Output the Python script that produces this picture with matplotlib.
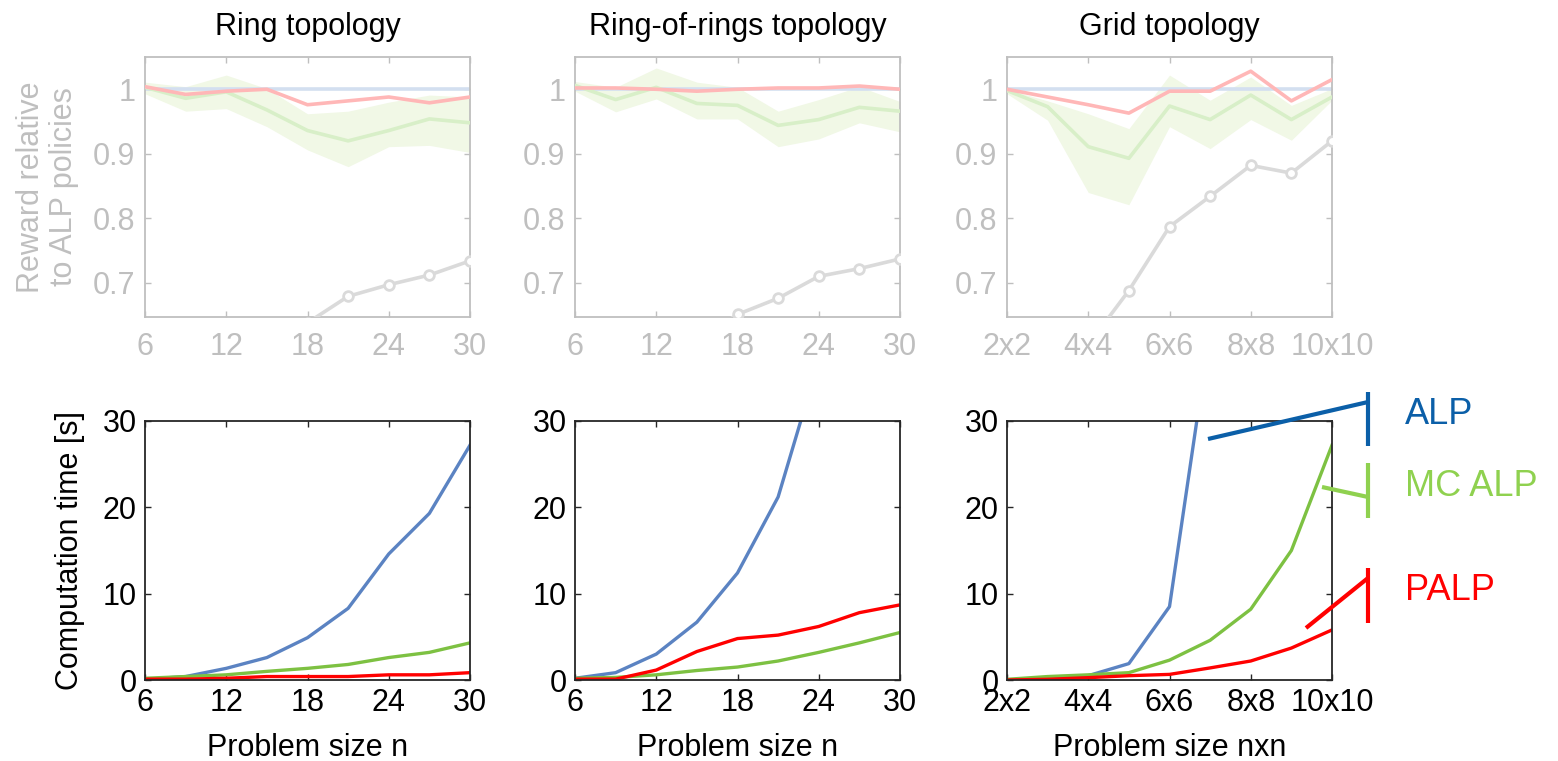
import matplotlib
matplotlib.use('Agg')
import matplotlib.pyplot as plt
from matplotlib.lines import Line2D

plt.rcParams['font.family'] = ['Liberation Sans', 'DejaVu Sans']

W, H = 1558, 761

# problem sizes
ring_n = [6, 9, 12, 15, 18, 21, 24, 27, 30]
grid_n = [2, 3, 4, 5, 6, 7, 8, 9, 10]
ring_ticks = [6, 12, 18, 24, 30]
grid_ticks = [2, 4, 6, 8, 10]
grid_labels = ['2x2', '4x4', '6x6', '8x8', '10x10']
titles = ['Ring topology', 'Ring-of-rings topology', 'Grid topology']
xlabels = ['Problem size n', 'Problem size n', 'Problem size nxn']

# reward relative to ALP policies (top row)
ring_palp = [1.004, 0.992, 0.997, 1.000, 0.976, 0.982, 0.988, 0.979, 0.988]
ring_mc = [1.003, 0.986, 0.996, 0.968, 0.936, 0.920, 0.936, 0.954, 0.948]
ring_mc_hi = [1.011, 1.004, 1.022, 1.001, 0.962, 0.966, 0.980, 0.991, 0.988]
ring_mc_lo = [0.993, 0.966, 0.970, 0.942, 0.906, 0.880, 0.911, 0.913, 0.902]
ring_other = [0.40, 0.47, 0.53, 0.59, 0.638, 0.679, 0.697, 0.712, 0.734]

ror_palp = [1.002, 1.002, 1.000, 0.997, 1.000, 1.002, 1.002, 1.005, 1.000]
ror_mc = [1.006, 0.984, 1.003, 0.978, 0.975, 0.944, 0.953, 0.972, 0.966]
ror_mc_hi = [1.012, 1.003, 1.033, 1.011, 1.003, 0.966, 0.984, 1.004, 0.981]
ror_mc_lo = [0.997, 0.965, 0.985, 0.954, 0.954, 0.911, 0.923, 0.948, 0.934]
ror_other = [0.45, 0.52, 0.57, 0.61, 0.651, 0.676, 0.710, 0.722, 0.737]

grid_palp = [1.000, 0.988, 0.976, 0.963, 0.997, 0.997, 1.028, 0.982, 1.015]
grid_mc = [0.998, 0.973, 0.911, 0.893, 0.974, 0.953, 0.991, 0.953, 0.988]
grid_mc_hi = [1.000, 0.982, 0.962, 0.939, 1.022, 0.983, 1.019, 0.975, 1.001]
grid_mc_lo = [0.993, 0.952, 0.840, 0.821, 0.942, 0.908, 0.953, 0.921, 0.983]
grid_other = [0.45, 0.52, 0.604, 0.688, 0.787, 0.834, 0.882, 0.870, 0.920]

# computation time [s] (bottom row)
ring_t_alp = [0.08, 0.4, 1.35, 2.6, 4.9, 8.3, 14.6, 19.3, 27.2]
ring_t_mc = [0.2, 0.4, 0.6, 1.0, 1.35, 1.8, 2.6, 3.2, 4.3]
ring_t_palp = [0.1, 0.1, 0.2, 0.4, 0.4, 0.4, 0.6, 0.6, 0.85]

ror_t_alp = [0.2, 0.85, 3.0, 6.7, 12.4, 21.2, 37.0]
ror_t_mc = [0.2, 0.3, 0.6, 1.1, 1.5, 2.2, 3.2, 4.3, 5.5]
ror_t_palp = [0.1, 0.1, 1.15, 3.3, 4.8, 5.2, 6.2, 7.8, 8.7]

grid_t_alp = [0.0, 0.2, 0.5, 1.9, 8.5, 40.5]
grid_t_mc = [0.08, 0.4, 0.6, 0.85, 2.3, 4.6, 8.2, 15.0, 27.2]
grid_t_palp = [0.0, 0.08, 0.27, 0.5, 0.65, 1.4, 2.2, 3.7, 5.8]

top_data = [
    (ring_n, ring_palp, ring_mc, ring_mc_lo, ring_mc_hi, ring_other),
    (ring_n, ror_palp, ror_mc, ror_mc_lo, ror_mc_hi, ror_other),
    (grid_n, grid_palp, grid_mc, grid_mc_lo, grid_mc_hi, grid_other),
]
bottom_data = [
    (ring_n, ring_t_alp, ring_t_mc, ring_t_palp),
    (ring_n, ror_t_alp, ror_t_mc, ror_t_palp),
    (grid_n, grid_t_alp, grid_t_mc, grid_t_palp),
]

FS = 22
FADE = '#bfbfbf'
BLUE, GREEN, RED = '#5b83c2', '#7dc142', '#ff0000'

fig = plt.figure(figsize=(W / 100, H / 100), dpi=100)

lefts = [145, 575, 1007]
aw = 325


def px_axes(x0, y0, x1, y1):
    return fig.add_axes([x0 / W, 1 - y1 / H, (x1 - x0) / W, (y1 - y0) / H])


for i in range(3):
    # ---- top row: reward relative to ALP ----
    ax = px_axes(lefts[i], 57, lefts[i] + aw, 317)
    n, palp, mc, lo, hi, other = top_data[i]
    ax.fill_between(n, lo, hi, color='#f1f8e6', lw=0, zorder=1)
    ax.plot(n, [1.0] * len(n), color='#d3dff0', lw=2.6, zorder=2)
    ax.plot(n, mc, color='#d8efc8', lw=2.6, zorder=3)
    ax.plot(n, palp, color='#ffb7b7', lw=2.6, zorder=4)
    ax.plot(n, other, color='#dadada', lw=2.6, marker='o', ms=7,
            mfc='white', mec='#dadada', mew=2, zorder=5)
    ax.set_xlim(n[0], n[-1])
    ax.set_ylim(0.647, 1.05)
    ax.set_yticks([0.7, 0.8, 0.9, 1.0])
    ax.set_yticklabels(['0.7', '0.8', '0.9', '1'])
    if i < 2:
        ax.set_xticks(ring_ticks)
    else:
        ax.set_xticks(grid_ticks)
        ax.set_xticklabels(grid_labels)
    ax.tick_params(direction='in', top=True, right=True, length=4, width=1,
                   color=FADE, labelcolor=FADE, labelsize=FS)
    ax.tick_params(axis='x', pad=11)
    ax.tick_params(axis='y', pad=7)
    for s in ax.spines.values():
        s.set_color(FADE)
        s.set_linewidth(1.3)
    ax.set_title(titles[i], fontsize=FS, pad=16)
    if i == 0:
        ax.set_ylabel('Reward relative\nto ALP policies', fontsize=FS,
                      color=FADE, linespacing=1.15)
        ax.yaxis.set_label_coords(-0.30, 0.5)
        ax.yaxis.label.set_va('center')

    # ---- bottom row: computation time ----
    bx = px_axes(lefts[i], 421, lefts[i] + aw, 680)
    n, t_alp, t_mc, t_palp = bottom_data[i]
    bx.plot(n[:len(t_alp)], t_alp, color=BLUE, lw=2.4)
    bx.plot(n, t_mc, color=GREEN, lw=2.4)
    bx.plot(n, t_palp, color=RED, lw=2.4)
    bx.set_xlim(n[0], n[-1])
    bx.set_ylim(0, 30)
    bx.set_yticks([0, 10, 20, 30])
    if i < 2:
        bx.set_xticks(ring_ticks)
    else:
        bx.set_xticks(grid_ticks)
        bx.set_xticklabels(grid_labels)
    bx.tick_params(direction='in', top=True, right=True, length=4, width=1,
                   color='#262626', labelsize=FS)
    bx.tick_params(axis='x', pad=6)
    bx.tick_params(axis='y', pad=6)
    for s in bx.spines.values():
        s.set_color('#262626')
        s.set_linewidth(1.3)
    bx.set_xlabel(xlabels[i], fontsize=FS)
    bx.xaxis.set_label_coords(0.5, -0.205)
    if i == 0:
        bx.set_ylabel('Computation time [s]', fontsize=FS)
        bx.yaxis.set_label_coords(-0.23, 0.5)
        bx.yaxis.label.set_va('center')


# legend drawn as callouts to the right of the grid panel
def fpt(x, y):
    return x / W, 1 - y / H


legend_items = [
    ('ALP', '#0b5fa8', (1208, 439), (1368, 402), (392, 446), 415),
    ('MC ALP', '#8fd14f', (1322, 487), (1368, 497), (463, 518), 487),
    ('PALP', '#ff0000', (1306, 628), (1368, 578), (568, 623), 591),
]
for label, col, p0, p1, (b0, b1), ty in legend_items:
    a, b = fpt(*p0)
    c, d = fpt(*p1)
    fig.add_artist(Line2D([a, c], [b, d], color=col, lw=3,
                          transform=fig.transFigure, solid_capstyle='butt'))
    x, y0 = fpt(1368, b0)
    _, y1 = fpt(1368, b1)
    fig.add_artist(Line2D([x, x], [y0, y1], color=col, lw=3,
                          transform=fig.transFigure, solid_capstyle='butt'))
    tx, tyf = fpt(1405, ty)
    fig.text(tx, tyf, label, color=col, fontsize=26, ha='left', va='center')

fig.savefig('out.png', dpi=100)
